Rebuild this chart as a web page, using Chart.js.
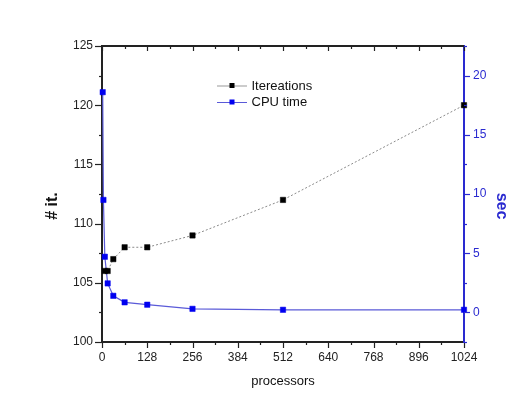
<!DOCTYPE html>
<html>
<head>
<meta charset="utf-8">
<script src="https://cdn.jsdelivr.net/npm/chart.js@4/dist/chart.umd.min.js"></script>
<style>
html,body{margin:0;padding:0;background:#fff;}
#wrap{width:527px;height:420px;}
</style>
</head>
<body>
<div id="wrap"><canvas id="c" width="527" height="420"></canvas></div>
<script>
// ---- data ----
const iterProcessors = [8, 16, 32, 64, 128, 256, 512, 1024];
const iterValues     = [106, 106, 107, 108, 108, 109, 112, 120];
const cpuProcessors  = [2, 4, 8, 16, 32, 64, 128, 256, 512, 1024];
const cpuValues      = [18.6, 9.5, 4.7, 2.45, 1.4, 0.85, 0.65, 0.3, 0.22, 0.22];
const xTickValues    = [0, 128, 256, 384, 512, 640, 768, 896, 1024];
const yLeftTicks     = [100, 105, 110, 115, 120, 125];
const yRightTicks    = [0, 5, 10, 15, 20];
const seriesNames    = ['Itereations', 'CPU time'];
const axisTitles     = { x: 'processors', yLeft: '# it.', yRight: 'sec' };

const FONT = '"Liberation Sans", Arial, sans-serif';
const BLUE_AXIS = '#2a2ad0';
const BLUE_MARK = '#0000f0';
const BLUE_LINE = '#5a5ad8';

function toXY(xs, ys){ return xs.map((x,i)=>({x:x, y:ys[i]})); }
const plain = v => String(v);

const decorPlugin = {
  id: 'decor',
  afterDraw(chart){
    const ctx = chart.ctx;
    const a = chart.chartArea;
    const sx = chart.scales.x, sl = chart.scales.y, sr = chart.scales.y2;
    ctx.save();
    // top frame line
    ctx.strokeStyle = '#222';
    ctx.lineWidth = 2;
    ctx.beginPath(); ctx.moveTo(a.left, a.top); ctx.lineTo(a.right, a.top); ctx.stroke();

    ctx.lineWidth = 1.2;
    // x ticks (bottom outward, top inward)
    const xStep = (xTickValues[1]-xTickValues[0])/2;
    for (let v = xTickValues[0]; v <= xTickValues[xTickValues.length-1] + 1e-6; v += xStep){
      const major = xTickValues.includes(v);
      const px = Math.round(sx.getPixelForValue(v)) + 0.5;
      ctx.strokeStyle = '#222';
      ctx.beginPath(); ctx.moveTo(px, a.bottom); ctx.lineTo(px, a.bottom + (major ? 6 : 3)); ctx.stroke();
      ctx.beginPath(); ctx.moveTo(px, a.top); ctx.lineTo(px, a.top + (major ? 5 : 3)); ctx.stroke();
    }
    // left ticks
    const lStep = (yLeftTicks[1]-yLeftTicks[0])/2;
    for (let v = yLeftTicks[0]; v <= yLeftTicks[yLeftTicks.length-1] + 1e-6; v += lStep){
      const major = yLeftTicks.includes(v);
      const py = Math.round(sl.getPixelForValue(v)) + 0.5;
      ctx.strokeStyle = '#222';
      ctx.beginPath(); ctx.moveTo(a.left, py); ctx.lineTo(a.left - (major ? 7 : 3), py); ctx.stroke();
    }
    // right ticks
    const rStep = (yRightTicks[1]-yRightTicks[0])/2;
    for (let v = sr.min; v <= sr.max + 1e-6; v += rStep){
      const major = yRightTicks.includes(v);
      const py = Math.round(sr.getPixelForValue(v)) + 0.5;
      ctx.strokeStyle = BLUE_AXIS;
      ctx.beginPath(); ctx.moveTo(a.right, py); ctx.lineTo(a.right + (major ? 6 : 3), py); ctx.stroke();
    }

    // axis titles
    const cy = (a.top + a.bottom)/2 + 12;
    ctx.textAlign = 'center'; ctx.textBaseline = 'middle';
    ctx.fillStyle = '#111';
    ctx.font = 'bold 16px ' + FONT;
    ctx.save(); ctx.translate(53, cy); ctx.rotate(-Math.PI/2); ctx.fillText(axisTitles.yLeft, 0, 0); ctx.restore();
    ctx.fillStyle = BLUE_AXIS;
    ctx.save(); ctx.translate(501, cy); ctx.rotate(Math.PI/2); ctx.fillText(axisTitles.yRight, 0, 0); ctx.restore();
    ctx.fillStyle = '#111';
    ctx.font = '13px ' + FONT;
    ctx.fillText(axisTitles.x, (a.left + a.right)/2, 381);

    // legend
    const items = [
      {y: 85.5, line: '#999', mark: '#000'},
      {y: 102, line: BLUE_LINE, mark: BLUE_MARK}
    ];
    ctx.textAlign = 'left';
    items.forEach((it, i) => {
      ctx.strokeStyle = it.line; ctx.lineWidth = 1;
      ctx.beginPath(); ctx.moveTo(217, it.y + 0.5); ctx.lineTo(247, it.y + 0.5); ctx.stroke();
      ctx.fillStyle = it.mark;
      ctx.fillRect(229.5, it.y - 2.5, 5, 5);
      ctx.fillStyle = '#111';
      ctx.font = '13px ' + FONT;
      ctx.fillText(seriesNames[i], 251.5, it.y + 0.5);
    });
    ctx.restore();
  }
};

new Chart(document.getElementById('c'), {
  type: 'scatter',
  data: {
    datasets: [
      {
        label: seriesNames[0],
        data: toXY(iterProcessors, iterValues),
        yAxisID: 'y',
        showLine: true,
        clip: false,
        borderColor: '#8a8a8a',
        borderWidth: 1,
        borderDash: [2, 2],
        pointStyle: 'rect',
        pointRadius: 3.8,
        pointBackgroundColor: '#000',
        pointBorderColor: '#000',
        pointBorderWidth: 0.5,
        tension: 0
      },
      {
        label: seriesNames[1],
        data: toXY(cpuProcessors, cpuValues),
        yAxisID: 'y2',
        showLine: true,
        clip: false,
        borderColor: BLUE_LINE,
        borderWidth: 1.2,
        pointStyle: 'rect',
        pointRadius: 3.8,
        pointBackgroundColor: BLUE_MARK,
        pointBorderColor: BLUE_MARK,
        pointBorderWidth: 0.5,
        tension: 0
      }
    ]
  },
  options: {
    responsive: false,
    animation: false,
    events: [],
    layout: { padding: { left: 0, right: 0, top: 46, bottom: 0 } },
    plugins: { legend: { display: false }, tooltip: { enabled: false }, title: { display: false } },
    scales: {
      x: {
        type: 'linear', position: 'bottom', min: 0, max: 1024,
        afterBuildTicks: s => { s.ticks = xTickValues.map(v => ({value: v})); },
        afterFit: s => { s.height = 78; },
        grid: { display: false, drawTicks: false },
        border: { display: true, color: '#222', width: 2 },
        ticks: { color: '#222', padding: 8, maxRotation: 0, autoSkip: false, callback: plain, font: { family: FONT, size: 12 } }
      },
      y: {
        type: 'linear', position: 'left', min: 100, max: 125,
        afterBuildTicks: s => { s.ticks = yLeftTicks.map(v => ({value: v})); },
        afterFit: s => { s.width = 102; },
        grid: { display: false, drawTicks: false },
        border: { display: true, color: '#222', width: 2 },
        ticks: { color: '#222', padding: 9, callback: plain, font: { family: FONT, size: 12 } }
      },
      y2: {
        type: 'linear', position: 'right', min: -2.5, max: 22.5,
        afterBuildTicks: s => { s.ticks = yRightTicks.map(v => ({value: v})); },
        afterFit: s => { s.width = 63; },
        grid: { display: false, drawTicks: false },
        border: { display: true, color: BLUE_AXIS, width: 2 },
        ticks: { color: BLUE_AXIS, padding: 9, callback: plain, font: { family: FONT, size: 12 } }
      }
    }
  },
  plugins: [decorPlugin]
});
</script>
</body>
</html>
